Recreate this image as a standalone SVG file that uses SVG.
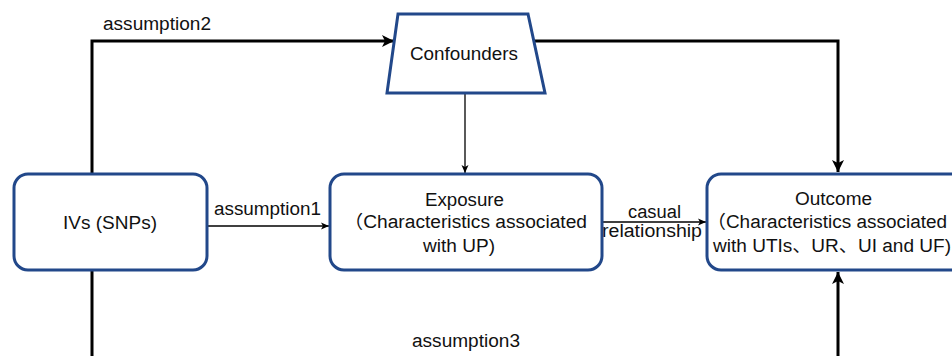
<svg xmlns="http://www.w3.org/2000/svg" width="952" height="356" viewBox="0 0 952 356">
<style>
.node{fill:#ffffff;stroke:#22488a;stroke-width:3;}
.t{font-family:"Liberation Sans","Noto Sans CJK SC",Arial,sans-serif;font-size:18px;fill:#111111;}
.thick{fill:none;stroke:#000000;stroke-width:3;}
.thin{fill:none;stroke:#000000;stroke-width:1.3;}
</style>
<defs>
<marker id="ah" markerUnits="userSpaceOnUse" markerWidth="14" markerHeight="14" refX="13" refY="7" orient="auto">
<path d="M1,1 L13,7 L1,13 L4,7 z" fill="#000000"/>
</marker>
<marker id="as" markerUnits="userSpaceOnUse" markerWidth="9" markerHeight="9" refX="8" refY="4.5" orient="auto">
<path d="M0,1 L8,4.5 L0,8 L2,4.5 z" fill="#000000"/>
</marker>
</defs>
<rect width="952" height="356" fill="#ffffff"/>
<g id="connectors">
<path class="thick" d="M92,174 V41 H394" marker-end="url(#ah)"/>
<path class="thick" d="M534,41 H838 V172" marker-end="url(#ah)"/>
<path class="thin" d="M465,93 V173" marker-end="url(#as)"/>
<path class="thin" d="M207,226 H329" marker-end="url(#as)"/>
<path class="thin" d="M602,222 H706" marker-end="url(#as)"/>
<path class="thick" d="M92,270 V380 H838 V272" marker-end="url(#ah)"/>
<text class="t" x="103" y="30" textLength="108" lengthAdjust="spacingAndGlyphs">assumption2</text>
<text class="t" x="214" y="215" textLength="107" lengthAdjust="spacingAndGlyphs">assumption1</text>
<text class="t" x="628" y="218" textLength="53" lengthAdjust="spacingAndGlyphs">casual</text>
<text class="t" x="602" y="237" textLength="100" lengthAdjust="spacingAndGlyphs">relationship</text>
<text class="t" x="412" y="347" textLength="108" lengthAdjust="spacingAndGlyphs">assumption3</text>
</g>
<g id="confounders">
<polygon class="node" points="398,14 528,14 545,93 387,93"/>
<text class="t" x="410" y="60" textLength="108" lengthAdjust="spacingAndGlyphs">Confounders</text>
</g>
<g id="ivs">
<rect class="node" x="14" y="174" width="193" height="96" rx="14"/>
<text class="t" x="63" y="229" textLength="94" lengthAdjust="spacingAndGlyphs">IVs (SNPs)</text>
</g>
<g id="exposure">
<rect class="node" x="330" y="174" width="272" height="96" rx="14"/>
<text class="t" x="425" y="206" textLength="79" lengthAdjust="spacingAndGlyphs">Exposure</text>
<text class="t" x="344" y="228" textLength="243" lengthAdjust="spacingAndGlyphs">（Characteristics associated</text>
<text class="t" x="423" y="252" textLength="72" lengthAdjust="spacingAndGlyphs">with UP)</text>
</g>
<g id="outcome">
<rect class="node" x="707" y="174" width="262" height="96" rx="14"/>
<text class="t" x="795" y="205" textLength="77" lengthAdjust="spacingAndGlyphs">Outcome</text>
<text class="t" x="707" y="228" textLength="240" lengthAdjust="spacingAndGlyphs">（Characteristics associated</text>
<text class="t" x="713" y="252" textLength="238" lengthAdjust="spacingAndGlyphs">with UTIs、UR、UI and UF)</text>
</g>
</svg>
